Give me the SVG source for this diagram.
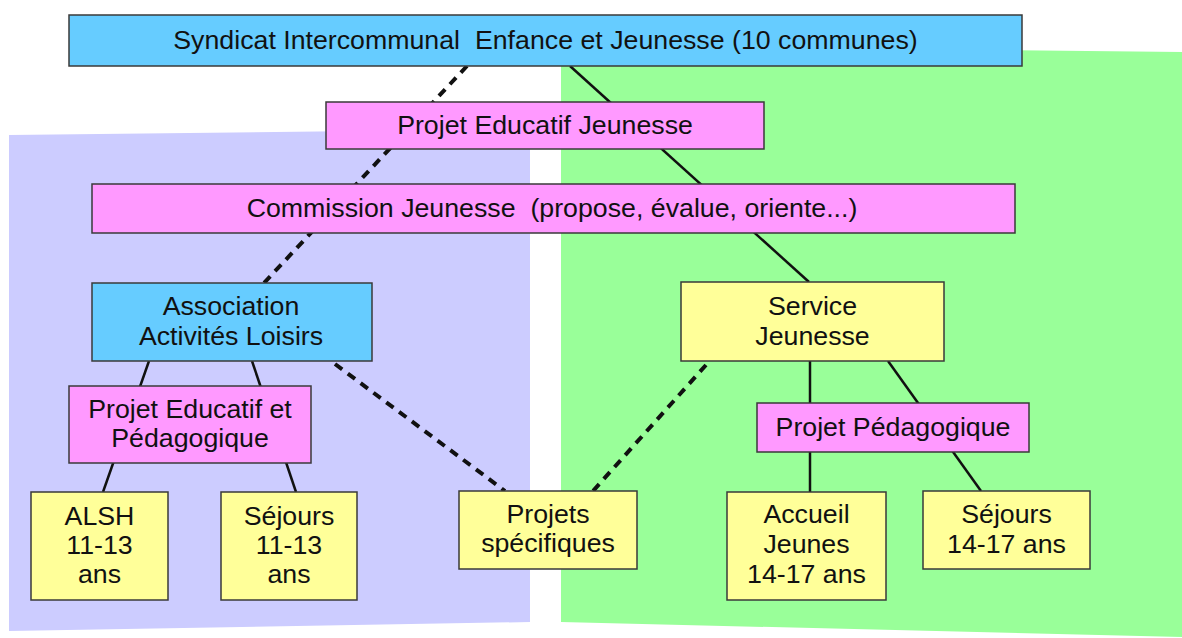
<svg xmlns="http://www.w3.org/2000/svg" width="1182" height="638" viewBox="0 0 1182 638">
<style>
.bg-p{fill:#ccccff}
.bg-g{fill:#99ff99}
.box{stroke:#3a3a3a;stroke-width:1.5}
.blue{fill:#66ccff}
.pink{fill:#ff99ff}
.yellow{fill:#ffff99}
.t{font-family:"Liberation Sans",Arial,sans-serif;font-size:25px;fill:#111;text-anchor:middle}
.solid{stroke:#111;stroke-width:2.5;fill:none}
.dash{stroke:#111;stroke-width:4;fill:none;stroke-dasharray:9 7}
</style>
<rect x="0" y="0" width="1182" height="638" fill="#ffffff"/>
<polygon class="bg-p" points="9,135 530,129 530,622 9,631"/>
<polygon class="bg-g" points="561,45 1182,52 1182,637 561,622"/>
<g id="connectors">
<line class="dash" x1="467" y1="66" x2="264" y2="283"/>
<line class="solid" x1="570" y1="66" x2="809" y2="282"/>
<line class="solid" x1="149" y1="361" x2="103" y2="492"/>
<line class="solid" x1="252" y1="361" x2="296" y2="492"/>
<line class="dash" x1="335" y1="364" x2="505" y2="491"/>
<line class="dash" x1="706" y1="365" x2="593" y2="491"/>
<line class="solid" x1="810" y1="361" x2="810" y2="492"/>
<line class="solid" x1="888" y1="361" x2="981" y2="491"/>
</g>
<g id="syndicat">
<rect class="box blue" x="69" y="15" width="953" height="51"/>
<text class="t" xml:space="preserve" transform="translate(545.5 0) scale(1.07 1)" x="0" y="49">Syndicat Intercommunal  Enfance et Jeunesse (10 communes)</text>
</g>
<g id="projet-educatif-jeunesse">
<rect class="box pink" x="326" y="102" width="438" height="47"/>
<text class="t" transform="translate(545 0) scale(1.07 1)" x="0" y="134">Projet Educatif Jeunesse</text>
</g>
<g id="commission">
<rect class="box pink" x="92" y="184" width="923" height="49"/>
<text class="t" xml:space="preserve" transform="translate(552 0) scale(1.07 1)" x="0" y="217">Commission Jeunesse  (propose, évalue, oriente...)</text>
</g>
<g id="association">
<rect class="box blue" x="92" y="283" width="280" height="78"/>
<text class="t" transform="translate(231 0) scale(1.07 1)"><tspan x="0" y="315">Association</tspan><tspan x="0" y="345">Activités Loisirs</tspan></text>
</g>
<g id="projet-educatif-pedagogique">
<rect class="box pink" x="69" y="386" width="242" height="77"/>
<text class="t" transform="translate(190 0) scale(1.07 1)"><tspan x="0" y="418">Projet Educatif et</tspan><tspan x="0" y="447">Pédagogique</tspan></text>
</g>
<g id="alsh">
<rect class="box yellow" x="31" y="492" width="137" height="108"/>
<text class="t" transform="translate(99.5 0) scale(1.07 1)"><tspan x="0" y="525">ALSH</tspan><tspan x="0" y="554">11-13</tspan><tspan x="0" y="583">ans</tspan></text>
</g>
<g id="sejours-11-13">
<rect class="box yellow" x="221" y="492" width="136" height="108"/>
<text class="t" transform="translate(289 0) scale(1.07 1)"><tspan x="0" y="525">Séjours</tspan><tspan x="0" y="554">11-13</tspan><tspan x="0" y="583">ans</tspan></text>
</g>
<g id="projets-specifiques">
<rect class="box yellow" x="459" y="491" width="178" height="78"/>
<text class="t" transform="translate(548 0) scale(1.07 1)"><tspan x="0" y="523">Projets</tspan><tspan x="0" y="552">spécifiques</tspan></text>
</g>
<g id="service-jeunesse">
<rect class="box yellow" x="681" y="282" width="263" height="79"/>
<text class="t" transform="translate(812.5 0) scale(1.07 1)"><tspan x="0" y="315">Service</tspan><tspan x="0" y="345">Jeunesse</tspan></text>
</g>
<g id="projet-pedagogique">
<rect class="box pink" x="757" y="403" width="272" height="49"/>
<text class="t" transform="translate(893 0) scale(1.07 1)" x="0" y="436">Projet Pédagogique</text>
</g>
<g id="accueil-jeunes">
<rect class="box yellow" x="727" y="492" width="159" height="108"/>
<text class="t" transform="translate(806.5 0) scale(1.07 1)"><tspan x="0" y="523">Accueil</tspan><tspan x="0" y="553">Jeunes</tspan><tspan x="0" y="583">14-17 ans</tspan></text>
</g>
<g id="sejours-14-17">
<rect class="box yellow" x="923" y="491" width="167" height="78"/>
<text class="t" transform="translate(1006.5 0) scale(1.07 1)"><tspan x="0" y="523">Séjours</tspan><tspan x="0" y="553">14-17 ans</tspan></text>
</g>
</svg>
